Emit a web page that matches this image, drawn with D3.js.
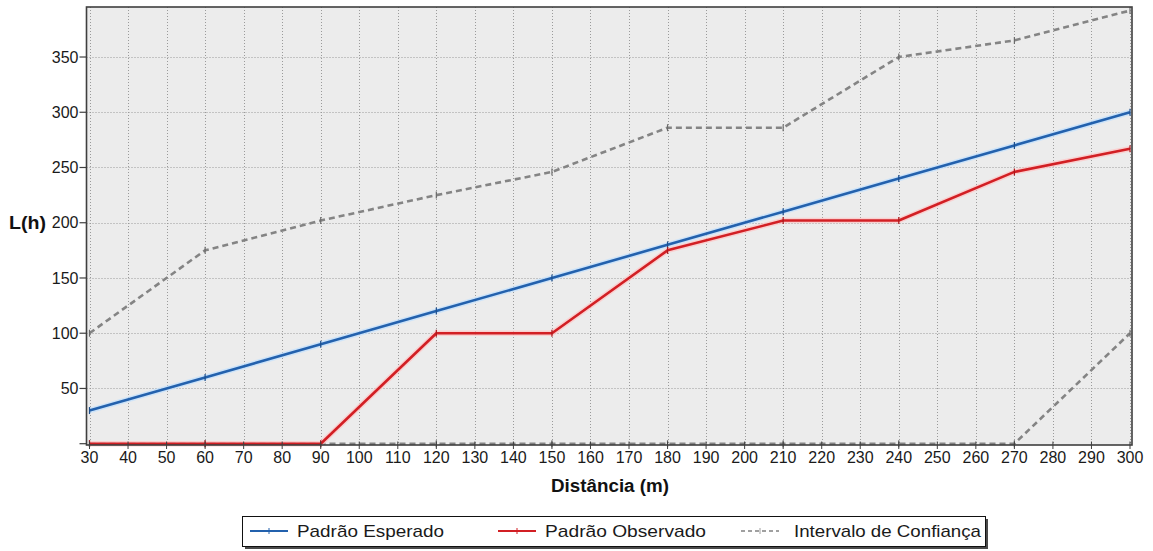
<!DOCTYPE html>
<html>
<head>
<meta charset="utf-8">
<script src="https://cdn.jsdelivr.net/npm/d3@7"></script>
<style>
  html, body { margin: 0; padding: 0; background: #ffffff; }
  svg { display: block; font-family: "Liberation Sans", Arial, sans-serif; }
</style>
</head>
<body>
<svg id="chart" width="1153" height="551"></svg>
<script>
// Ripley's L(h) function against distance, with its confidence envelope
const distances   = [30, 60, 90, 120, 150, 180, 210, 240, 270, 300];
const expected    = [30, 60, 90, 120, 150, 180, 210, 240, 270, 300];
const observed    = [0, 0, 0, 100, 100, 175, 202, 202, 246, 267];
const upperBound  = [100, 175, 202, 225, 246, 286, 286, 350, 365, 392];
const lowerBound  = [0, 0, 0, 0, 0, 0, 0, 0, 0, 100];

const xTickValues = [30, 40, 50, 60, 70, 80, 90, 100, 110, 120, 130, 140, 150, 160,
                     170, 180, 190, 200, 210, 220, 230, 240, 250, 260, 270, 280, 290, 300];
const yTickValues = [0, 50, 100, 150, 200, 250, 300, 350];
const yTickLabels = ["", "50", "100", "150", "200", "250", "300", "350"];

const seriesNames = ["Padrão Esperado", "Padrão Observado", "Intervalo de Confiança"];
const xTitle = "Distância (m)";
const yTitle = "L(h)";

// plot frame
const frame = { left: 86.5, right: 1132, top: 7, bottom: 445 };

const svg = d3.select("#chart");

const x = d3.scaleLinear().domain([30, 300]).range([89.5, 1130]);
const y = d3.scaleLinear().domain([0, 395]).range([443.7, 7.3]);

// plot background
svg.append("rect")
  .attr("x", frame.left).attr("y", frame.top)
  .attr("width", frame.right - frame.left).attr("height", frame.bottom - frame.top)
  .attr("fill", "#ececec");

// dotted grid
const grid = svg.append("g").attr("stroke", "#9a9a9a").attr("stroke-width", 1)
  .attr("stroke-dasharray", "1,2").attr("fill", "none");
grid.selectAll("line.v").data(xTickValues).join("line")
  .attr("class", "v")
  .attr("x1", d => Math.round(x(d)) + 0.5).attr("x2", d => Math.round(x(d)) + 0.5)
  .attr("y1", frame.top).attr("y2", frame.bottom);
grid.selectAll("line.h").data(yTickValues.filter(d => d > 0)).join("line")
  .attr("class", "h")
  .attr("y1", d => Math.round(y(d)) + 0.5).attr("y2", d => Math.round(y(d)) + 0.5)
  .attr("x1", frame.left).attr("x2", frame.right);

// series
const pts = vals => distances.map((d, i) => [d, vals[i]]);
const line = d3.line().x(d => x(d[0])).y(d => y(d[1]));

const series = [
  { vals: lowerBound, color: "#848484", halo: "#d0d0d0", dash: "6,4" },
  { vals: upperBound, color: "#848484", halo: "#d0d0d0", dash: "6,4" },
  { vals: expected,   color: "#2361ad", halo: "#bfe0ff", dash: null },
  { vals: observed,   color: "#d21f24", halo: "#ffc4c4", dash: null }
];

const gSeries = svg.append("g");
series.forEach(s => {
  if (!s.dash) {
    gSeries.append("path")
      .attr("d", line(pts(s.vals)))
      .attr("fill", "none")
      .attr("stroke", s.halo)
      .attr("stroke-width", 5.5)
      .attr("stroke-opacity", 0.7)
      .attr("stroke-linejoin", "round");
  }
  gSeries.append("path")
    .attr("d", line(pts(s.vals)))
    .attr("fill", "none")
    .attr("stroke", s.color)
    .attr("stroke-width", 2.6)
    .attr("stroke-dasharray", s.dash)
    .attr("stroke-linejoin", "round");
  // small cross markers at each point
  gSeries.selectAll(null).data(pts(s.vals)).join("line")
    .attr("x1", d => x(d[0])).attr("x2", d => x(d[0]))
    .attr("y1", d => y(d[1]) - 3.5).attr("y2", d => y(d[1]) + 3.5)
    .attr("stroke", d3.color(s.color).darker(0.6))
    .attr("stroke-width", 1.2);
});

// frame
svg.append("rect")
  .attr("x", frame.left).attr("y", frame.top)
  .attr("width", frame.right - frame.left).attr("height", frame.bottom - frame.top)
  .attr("fill", "none").attr("stroke", "#3f3f3f").attr("stroke-width", 1.6);

// y axis ticks and labels
const yAxis = svg.append("g");
yAxis.selectAll("line").data(yTickValues).join("line")
  .attr("x1", 79.5).attr("x2", frame.left)
  .attr("y1", d => y(d)).attr("y2", d => y(d))
  .attr("stroke", "#3f3f3f").attr("stroke-width", 1.2);
yAxis.selectAll("text").data(yTickValues).join("text")
  .attr("x", 78.5).attr("y", d => y(d) + 5.7)
  .attr("text-anchor", "end")
  .attr("font-size", 16).attr("fill", "#1a1a1a")
  .text((d, i) => yTickLabels[i]);

// x axis ticks and labels
const xAxis = svg.append("g");
xAxis.selectAll("line").data(xTickValues).join("line")
  .attr("x1", d => x(d)).attr("x2", d => x(d))
  .attr("y1", 441.5).attr("y2", 449)
  .attr("stroke", "#3f3f3f").attr("stroke-width", 1);
xAxis.selectAll("text").data(xTickValues).join("text")
  .attr("x", d => x(d)).attr("y", 462.5)
  .attr("text-anchor", "middle")
  .attr("font-size", 16).attr("fill", "#1a1a1a")
  .text(d => d);

// axis titles
svg.append("text")
  .attr("x", 610).attr("y", 492)
  .attr("text-anchor", "middle")
  .attr("font-size", 18).attr("font-weight", "bold").attr("fill", "#111")
  .attr("textLength", 118).attr("lengthAdjust", "spacingAndGlyphs")
  .text(xTitle);
svg.append("text")
  .attr("x", 9).attr("y", 229)
  .attr("font-size", 18.5).attr("font-weight", "bold").attr("fill", "#111")
  .attr("textLength", 37).attr("lengthAdjust", "spacingAndGlyphs")
  .text(yTitle);

// legend
const legend = { x: 242, y: 516, w: 743, h: 30 };
svg.append("rect")
  .attr("x", legend.x + 3).attr("y", legend.y + 3)
  .attr("width", legend.w).attr("height", legend.h)
  .attr("fill", "#4a4a4a");
svg.append("rect")
  .attr("x", legend.x + 0.5).attr("y", legend.y + 0.5)
  .attr("width", legend.w).attr("height", legend.h)
  .attr("fill", "#ffffff").attr("stroke", "#111").attr("stroke-width", 1);

const legendItems = [
  { name: seriesNames[0], color: "#2361ad", dash: null,  x0: 250, tx: 297, tw: 147 },
  { name: seriesNames[1], color: "#d21f24", dash: null,  x0: 498, tx: 545, tw: 161 },
  { name: seriesNames[2], color: "#a0a0a0", dash: "4,3", x0: 741, tx: 794, tw: 187 }
];
const lg = svg.append("g");
legendItems.forEach(it => {
  lg.append("line")
    .attr("x1", it.x0).attr("x2", it.x0 + 38)
    .attr("y1", 531).attr("y2", 531)
    .attr("stroke", it.color).attr("stroke-width", 1.8)
    .attr("stroke-dasharray", it.dash);
  lg.append("line")
    .attr("x1", it.x0 + 19).attr("x2", it.x0 + 19)
    .attr("y1", 528).attr("y2", 534)
    .attr("stroke", it.color).attr("stroke-width", 1);
  lg.append("text")
    .attr("x", it.tx).attr("y", 537)
    .attr("font-size", 17).attr("fill", "#1a1a1a")
    .attr("textLength", it.tw).attr("lengthAdjust", "spacingAndGlyphs")
    .text(it.name);
});
</script>
</body>
</html>
